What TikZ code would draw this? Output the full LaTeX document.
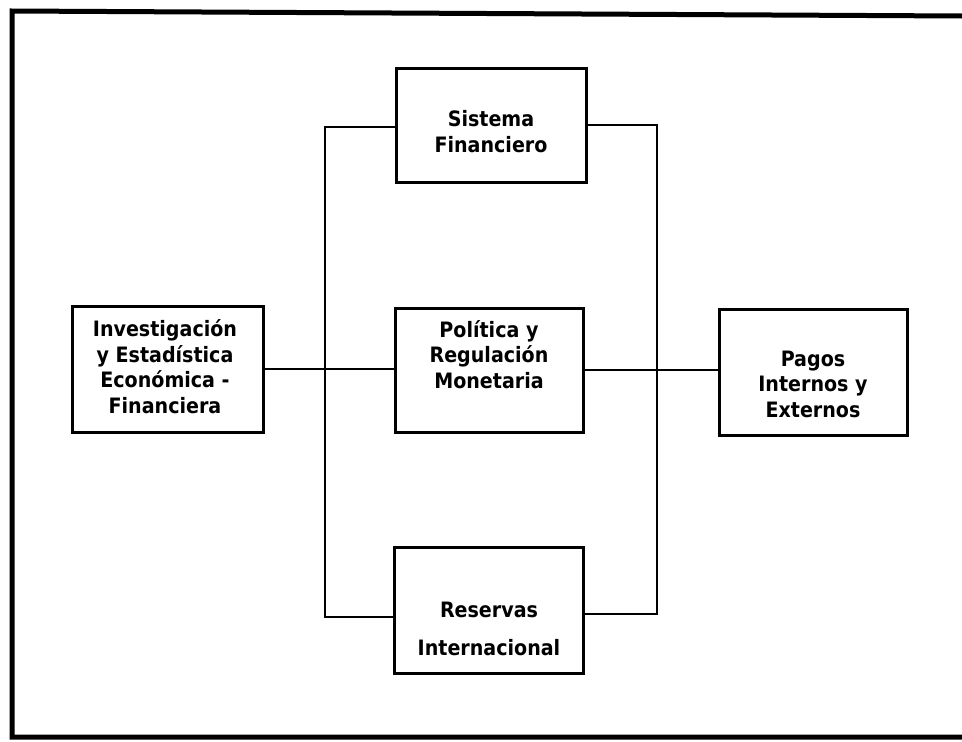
\documentclass[tikz,border=0pt]{standalone}
\usepackage{fontspec}
\IfFontExistsTF{DejaVu Sans Condensed}
  {\newfontfamily\lblfont{DejaVu Sans Condensed}}
  {\newfontfamily\lblfont{DejaVu Sans}[FakeStretch=0.9]}
\begin{document}
\begin{tikzpicture}[x=1pt,y=-1pt,
  box/.style={draw, line width=3pt, rectangle, inner sep=0pt},
  lbl/.style={font=\lblfont\bfseries\fontsize{21.2}{25.5}\selectfont, align=center, anchor=base, inner sep=0pt},
  conn/.style={line width=2pt},
  frame/.style={line width=5pt}]
\useasboundingbox (0,0) rectangle (962,742);
% outer frame
\draw[frame] (962,16) -- (12,11) -- (12,737) -- (962,737);
% boxes
\node[box, minimum width=190pt, minimum height=114pt] (sis) at (491,125) {};
\node[box, minimum width=191pt, minimum height=126pt] (inv) at (167.5,369) {};
\node[box, minimum width=188pt, minimum height=124pt] (pol) at (489,370) {};
\node[box, minimum width=188pt, minimum height=126pt] (pag) at (813,372) {};
\node[box, minimum width=189pt, minimum height=126pt] (res) at (488.5,610) {};
% texts (anchor=base is the baseline of the last line)
\node[lbl] (sis-t) at (491,152) {Sistema\\Financiero};
\node[lbl] (inv-t) at (165,413) {Investigación\\y Estadística\\Económica -\\Financiera};
\node[lbl] (pol-t) at (489,388) {Política y\\Regulación\\Monetaria};
\node[lbl] (pag-t) at (813,417) {Pagos\\Internos y\\Externos};
\node[lbl, font=\lblfont\bfseries\fontsize{21.2}{38}\selectfont] (res-t) at (489,655) {Reservas\\Internacional};
% connector coordinates
\coordinate (lt) at (325,127);
\coordinate (lb) at (325,617);
\coordinate (rt) at (657,125);
\coordinate (rb) at (657,614);
% connectors
\draw[conn] (sis.west |- lt) -- (lt) -- (lb) -- (res.west |- lb);
\draw[conn] (sis.east |- rt) -- (rt) -- (rb) -- (res.east |- rb);
\draw[conn] (inv.east) -- (inv.east -| pol.west);
\draw[conn] (pol.east) -- (pol.east -| pag.west);
\end{tikzpicture}
\end{document}
